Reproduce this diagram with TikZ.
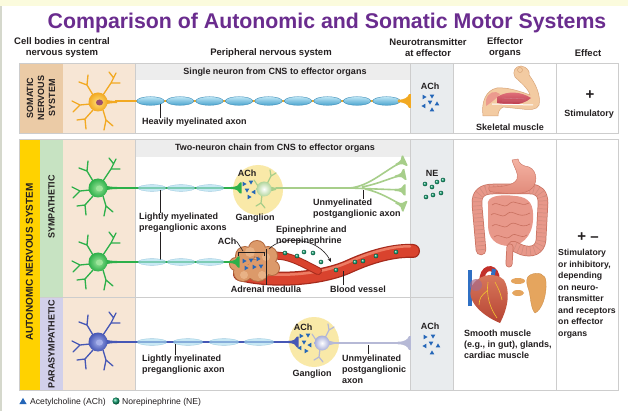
\documentclass[tikz,border=0pt]{standalone}
\usepackage{fontspec}
\setmainfont{Liberation Sans}
\usetikzlibrary{arrows.meta}
\definecolor{titlepurple}{HTML}{6A2C8E}
\definecolor{topband}{HTML}{FBFBDD}
\definecolor{edgegrey}{HTML}{D5D8CC}
\definecolor{tandark}{HTML}{EBCBA6}
\definecolor{tanlight}{HTML}{F7E6D5}
\definecolor{autoyellow}{HTML}{FFD200}
\definecolor{sympgreen}{HTML}{C7E3C2}
\definecolor{paralav}{HTML}{D2D0EA}
\definecolor{bandgrey}{HTML}{EDEDED}
\definecolor{ntgrey}{HTML}{E9ECEE}
\definecolor{gridc}{HTML}{CDCDCD}
\definecolor{somorange}{HTML}{F2A922}
\definecolor{somlight}{HTML}{FFE07A}
\definecolor{somnuc}{HTML}{9A4F6E}
\definecolor{myelinlight}{HTML}{BDE6F5}
\definecolor{myelindark}{HTML}{4AA3CE}
\definecolor{myelinedge}{HTML}{3A8CB8}
\definecolor{lightmyelin}{HTML}{A9DCEF}
\definecolor{sgreen}{HTML}{2DB04A}
\definecolor{sgreenlight}{HTML}{9CE59A}
\definecolor{pgreen}{HTML}{A7CE8A}
\definecolor{pgreensoma}{HTML}{B2D69C}
\definecolor{pblue}{HTML}{4657B5}
\definecolor{pbluelight}{HTML}{A5AFEA}
\definecolor{plav}{HTML}{B6B9D6}
\definecolor{plavsoma}{HTML}{A9AFDA}
\definecolor{ganglion}{HTML}{F9E9A8}
\definecolor{achblue}{HTML}{2466B8}
\definecolor{negreen}{HTML}{12A070}
\definecolor{vesselred}{HTML}{D9432E}
\definecolor{vesseldark}{HTML}{A52A1C}
\definecolor{vessellight}{HTML}{F28B72}
\definecolor{adrenal}{HTML}{DC9A6A}
\definecolor{adrenaldark}{HTML}{B36A40}
\definecolor{adrenallight}{HTML}{F0C39A}
\definecolor{skin}{HTML}{F3CBA2}
\definecolor{skindark}{HTML}{D9A57A}
\definecolor{muscletop}{HTML}{E67A82}
\definecolor{musclebot}{HTML}{B8364A}
\definecolor{gutpink}{HTML}{E8988A}
\definecolor{gutdark}{HTML}{C8705F}
\definecolor{stomtop}{HTML}{F4B3A3}
\definecolor{stombot}{HTML}{E08878}
\definecolor{hearttop}{HTML}{D97A5E}
\definecolor{heartbot}{HTML}{B74433}
\definecolor{heartblue}{HTML}{2F70C4}
\definecolor{aortared}{HTML}{C2312A}
\definecolor{atrium}{HTML}{A86A8A}
\definecolor{coronary}{HTML}{F2C230}
\definecolor{glandor}{HTML}{E5A55E}
\definecolor{glanddark}{HTML}{C98A45}
\definecolor{txt}{HTML}{231F20}
\tikzset{
 titlestyle/.style={font=\bfseries\fontsize{21.3}{24}\selectfont, text=titlepurple, inner sep=0pt},
 hdr/.style={font=\bfseries\fontsize{9.5}{11}\selectfont, inner sep=0pt, align=center, text=txt},
 lbl/.style={font=\bfseries\fontsize{9}{11}\selectfont, inner sep=0pt, align=left, text=txt},
 vlbl/.style={font=\bfseries\fontsize{9}{11}\selectfont, inner sep=0pt, align=center, rotate=90, text=txt},
 leg/.style={font=\fontsize{8.6}{10}\selectfont, inner sep=0pt, text=txt},
 gridline/.style={draw=gridc, line width=0.8pt},
 tick/.style={draw=txt, line width=0.6pt},
 pics/neuron/.style n args={3}{code={
   \draw[#1, line width=1.3pt, line cap=round, line join=round]
     (-5,-7) -- (-11,-17) -- (-19,-20) (-11,-17) -- (-10,-27)
     (5,-7) -- (13,-19) -- (18,-29) (13,-19) -- (22,-19) (15.7,-24) -- (11,-30)
     (-8,2) -- (-18,3) -- (-26,-1) (-18,3) -- (-25,10)
     (-5,8) -- (-13,17) -- (-21,18) (-13,17) -- (-12,27)
     (5,8) -- (8,18) -- (6,28) (8,18) -- (15,24);
   \fill[#1] (5,-4.5) .. controls (10,-1.3) .. (19,-1.1) -- (19,1.1) .. controls (10,1.3) .. (5,4.5) -- cycle;
   \shade[inner color=#2, outer color=#1] (0,0) circle [radius=9.5];
   \fill[#3] (1.5,0.5) ellipse [x radius=3.5, y radius=3];
 }},
 pics/gneuron/.style n args={2}{code={
   \draw[#1, line width=1.2pt, line cap=round, line join=round]
     (3,-5) -- (7,-13) -- (12,-16) (7,-13) -- (6,-19)
     (-2,6) -- (-3,14) -- (-8,17) (-3,14) -- (1,19)
     (-6,-3) -- (-10,-9);
   \fill[#1] (4,-3) -- (12,-1) -- (12,1) -- (4,3) -- cycle;
   \shade[inner color=white, outer color=#2] (0,0) circle [radius=7.5];
 }},
 pics/flare/.style={code={
   \fill[#1] (-9,-1) .. controls (-3,-1) and (-1,-3) .. (0,-5.5) -- (1.5,-5.5) -- (1.5,5.5) -- (0,5.5) .. controls (-1,3) and (-3,1) .. (-9,1) -- cycle;
 }},
 pics/tri/.style={code={
   \fill[achblue] (0,-2.6) -- (2.3,1.4) -- (-2.3,1.4) -- cycle;
 }},
}
\begin{document}
\begin{tikzpicture}[x=1pt,y=-1pt]
\useasboundingbox (0,0) rectangle (628,411);
\fill[white] (0,0) rectangle (628,411);
\fill[topband] (0,0) rectangle (628,6);
\fill[edgegrey] (0,6) rectangle (1.6,411);

% ---------- title and headers
\node[titlestyle, anchor=base] (title) at (327,29) {Comparison of Autonomic and Somatic Motor Systems};
\node[hdr] (hcell) at (62,47.5) {Cell bodies in central\\nervous system};
\node[hdr] (hpns) at (271,53) {Peripheral nervous system};
\node[hdr] (hnt) at (428,47.5) {Neurotransmitter\\at effector};
\node[hdr] (heff) at (505,47.5) {Effector\\organs};
\node[hdr] (heffect) at (588,53) {Effect};

% ---------- somatic table
\fill[tandark] (19,63) rectangle (63,133);
\fill[tanlight] (63,63) rectangle (135,133);
\fill[bandgrey] (135,63) rectangle (410,80);
\fill[ntgrey] (410,63) rectangle (453,133);
\draw[gridline] (19,63) rectangle (618,133);
\draw[gridline] (135,63) -- (135,133) (410,63) -- (410,133) (453,63) -- (453,133) (556,63) -- (556,133);

% ---------- autonomic table
\fill[autoyellow] (19,139) rectangle (40,390);
\fill[sympgreen] (40,139) rectangle (63,297);
\fill[paralav] (40,297) rectangle (63,390);
\fill[tanlight] (63,139) rectangle (135,390);
\fill[bandgrey] (135,139) rectangle (410,157);
\fill[ntgrey] (410,139) rectangle (453,390);
\draw[gridline] (19,139) rectangle (618,390);
\draw[gridline] (135,139) -- (135,390) (410,139) -- (410,390) (453,139) -- (453,390) (556,139) -- (556,390);
\draw[gridline] (40,297) -- (453,297);

% ---------- side labels
\node[vlbl] (somlbl) at (41,98) {SOMATIC\\NERVOUS\\SYSTEM};
\node[vlbl, font=\bfseries\fontsize{10}{12}\selectfont] (autolbl) at (29.5,262) {AUTONOMIC NERVOUS SYSTEM};
\node[vlbl] (symlbl) at (51.5,207) {SYMPATHETIC};
\node[vlbl] (paralbl) at (51.5,344) {PARASYMPATHETIC};

% ---------- band captions
\node[lbl] (single) at (275,72) {Single neuron from CNS to effector organs};
\node[lbl] (twochain) at (275,148) {Two-neuron chain from CNS to effector organs};

% ================= SOMATIC ROW
\pic at (98,102) {neuron={somorange}{somlight}{somnuc}};
\draw[somorange, line width=2.2pt] (115,101) -- (404,101);
\foreach \cx in {150.5,180,209.5,239,268.5,298,327.5,357,386.5}
  \shadedraw[top color=myelinlight, bottom color=myelindark, draw=myelinedge, line width=0.4pt] (\cx,101) ellipse [x radius=13.8, y radius=4.3];
\pic[scale=1.25] at (409,101) {flare=somorange};
\node[lbl, anchor=west] (heavy) at (142,122) {Heavily myelinated axon};
\coordinate (t1) at (160,104);
\draw[tick] (t1) -- (t1 |- heavy.north);
% neurotransmitter
\node[lbl] (achS) at (430,86) {ACh};
\foreach \x/\y/\r in {424/97/-90, 432/96/180, 430/102/180, 424/106/90, 437/104/0, 432/110/0}
  \pic[rotate=\r] at (\x,\y) {tri};
% skeletal muscle (arm)
\filldraw[fill=skin, draw=skindark, line width=0.5pt] (483,116) .. controls (481,102) and (486,90) .. (497,88) .. controls (508,87) and (522,92) .. (530,95) .. controls (528,88) and (520,82) .. (515,77) .. controls (512,72) and (515,66) .. (521,66) .. controls (527,67) and (530,71) .. (529,75) .. controls (536,84) and (541,96) .. (539,105) .. controls (537,110) and (530,110) .. (522,109) -- (503,107) .. controls (499,109) and (498,113) .. (498,116) -- cycle;
\shade[top color=muscletop, bottom color=musclebot] (497,97) .. controls (508,90) and (522,92) .. (531,98) .. controls (522,106) and (507,106) .. (497,103) -- cycle;
\fill[muscletop, opacity=.6] (486,100) .. controls (488,92) and (495,90) .. (500,94) .. controls (497,98) and (492,102) .. (486,106) -- cycle;
\draw[musclebot!60, line width=0.3pt] (502,98) -- (526,99) (502,101) -- (526,101);
\draw[white, line width=1pt] (492,104) -- (533,105);
\draw[skindark, line width=0.5pt] (520,70) circle [radius=2.5];
\node[lbl] (skel) at (510,127) {Skeletal muscle};
% effect
\node[lbl, font=\bfseries\fontsize{15}{15}\selectfont] (somplus) at (590,95) {+};
\node[lbl] (somstim) at (589,114) {Stimulatory};

% ================= SYMPATHETIC ROW 1
\fill[ganglion] (258,190) circle [radius=25];
\pic at (98,188) {neuron={sgreen}{sgreenlight}{sgreenlight}};
\draw[sgreen, line width=2pt] (115,188) -- (234,188);
\foreach \cx in {152,181,210}
  \filldraw[fill=lightmyelin, fill opacity=.65, draw=myelinedge, draw opacity=.4, line width=.3pt] (\cx,188) ellipse [x radius=14, y radius=3.4];
\pic at (240,188) {flare=sgreen};
\node[lbl] (achG1) at (247,173) {ACh};
\foreach \x/\y/\r in {244/184/-90, 251/182/180, 247/190/180, 254/192/-30, 249/197/-90}
  \pic[rotate=\r] at (\x,\y) {tri};
\draw[pgreen, line width=1.8pt, line cap=round] (276,188) -- (352,188);
\draw[pgreen, line width=1.6pt] (350,188) .. controls (370,186) and (385,170) .. (402,162)
  (362,187) .. controls (378,184) and (390,178) .. (402,175)
  (350,188) -- (402,190)
  (365,189) .. controls (380,192) and (392,200) .. (402,205);
\pic[rotate=25] at (404,161) {flare=pgreen};
\pic[rotate=12] at (404,174.6) {flare=pgreen};
\pic at (404,190) {flare=pgreen};
\pic[rotate=-22] at (404,206) {flare=pgreen};
\pic at (264,189) {gneuron={pgreen}{pgreensoma}};
\node[lbl] (gang1) at (255,218) {Ganglion};
\node[lbl, anchor=west] (unmy1) at (313,208.5) {Unmyelinated\\postganglionic axon};
\coordinate (t2) at (363,190);
\draw[tick] (t2) -- (t2 |- unmy1.north);
\node[lbl, anchor=west] (lightly1) at (139,222.5) {Lightly myelinated\\preganglionic axons};
\coordinate (t3) at (160,190);
\coordinate (t4) at (160,260);
\draw[tick] (t3) -- (t3 |- lightly1.north);
\draw[tick] (t4) -- (t4 |- lightly1.south);
% NE
\node[lbl] (neN) at (432,173) {NE};
\foreach \x/\y in {425/184, 432/187, 437/182, 443/180, 433/195, 426/197, 441/193}
  \shade[ball color=negreen] (\x,\y) circle [radius=2.3];

% ================= SYMPATHETIC ROW 2 (adrenal)
\pic at (98,262) {neuron={sgreen}{sgreenlight}{sgreenlight}};
\draw[sgreen, line width=2pt] (115,262) -- (232,262);
\foreach \cx in {152,181,210}
  \filldraw[fill=lightmyelin, fill opacity=.65, draw=myelinedge, draw opacity=.4, line width=.3pt] (\cx,262) ellipse [x radius=14, y radius=3.4];
% blood vessel
\draw[vesseldark, line width=14pt, line cap=round] (240,274) .. controls (270,282) and (320,280) .. (350,266) .. controls (372,256) and (395,250) .. (413,251);
\draw[vesselred, line width=11.5pt, line cap=round] (240,274) .. controls (270,282) and (320,280) .. (350,266) .. controls (372,256) and (395,250) .. (413,251);
\draw[vessellight, line width=2.5pt, line cap=round, opacity=.8, yshift=2.5pt] (250,274) .. controls (275,280) and (320,278) .. (350,264) .. controls (372,254) and (395,248) .. (410,249);
\draw[vesseldark, line width=8pt, line cap=round] (266,257) .. controls (285,252) and (300,262) .. (318,271);
\draw[vesselred, line width=6pt, line cap=round] (266,257) .. controls (285,252) and (300,262) .. (318,271);
% adrenal medulla
\foreach \x/\y/\r in {245/256/9, 257/249/8, 268/256/9, 272/268/7, 258/270/11, 243/272/9, 236/264/6}
  \fill[adrenaldark] (\x,\y) circle [radius=\r+1];
\foreach \x/\y/\r in {245/256/9, 257/249/8, 268/256/9, 272/268/7, 258/270/11, 243/272/9, 236/264/6}
  \fill[adrenal] (\x,\y) circle [radius=\r];
\fill[adrenallight, opacity=.6] (250,252) circle [radius=5] (266,257) circle [radius=4] (244,275) circle [radius=4] (262,275) circle [radius=4];
\pic at (238,262) {flare=sgreen};
\foreach \x/\y/\r in {244/261/-90, 251/260/180, 258/259/-90, 246/268/-90, 254/267/-90, 261/266/180}
  \pic[rotate=\r] at (\x,\y) {tri};
\node[lbl] (achA) at (227,241) {ACh};
\draw[tick] (achA.east) -- (243,251);
\draw[tick] (238,256) -- (238,252) -- (264,252) -- (264,256);
\node[lbl] (admed) at (266,289) {Adrenal medulla};
\coordinate (t5) at (266,249);
\draw[tick] (t5) -- (t5 |- admed.north);
\node[lbl, anchor=west] (epi) at (276,236) {Epinephrine and\\norepinephrine};
\draw[-{Stealth[length=4pt,width=3.5pt]}, line width=0.6pt, txt] (269,249) .. controls (282,235) and (318,237) .. (331,262);
\foreach \x/\y in {285/253, 297/256, 304/252, 313/253, 321/262, 336/270, 355/262, 363/261, 376/256, 396/252}
  \shade[ball color=negreen] (\x,\y) circle [radius=2.3];
\node[lbl] (vessel) at (358,289) {Blood vessel};
\coordinate (t6) at (343,271);
\draw[tick] (t6) -- (t6 |- vessel.north);

% ================= PARASYMPATHETIC ROW
\fill[ganglion] (314,342) circle [radius=25];
\pic at (98,342) {neuron={pblue}{pbluelight}{pbluelight}};
\draw[pblue, line width=2pt] (115,342) -- (292,342);
\foreach \cx in {152,188,224,259}
  \filldraw[fill=lightmyelin, fill opacity=.65, draw=myelinedge, draw opacity=.4, line width=.3pt] (\cx,342) ellipse [x radius=15, y radius=3.4];
\pic at (297,342) {flare=pblue};
\node[lbl] (achG2) at (303,327) {ACh};
\foreach \x/\y/\r in {301/336/-90, 308/335/180, 304/342/180, 310/345/-30, 306/351/-90, 300/348/90}
  \pic[rotate=\r] at (\x,\y) {tri};
\draw[plav, line width=2pt] (334,343) -- (404,343);
\pic[scale=1.25] at (409,343) {flare=plav};
\pic at (322,343) {gneuron={plav}{plavsoma}};
\node[lbl, anchor=west] (lightly2) at (142,364.5) {Lightly myelinated\\preganglionic axon};
\coordinate (t7) at (175,344);
\draw[tick] (t7) -- (t7 |- lightly2.north);
\node[lbl] (gang2) at (312,374) {Ganglion};
\node[lbl, anchor=west] (unmy2) at (342,369) {Unmyelinated\\postganglionic\\axon};
\coordinate (t8) at (368,345);
\draw[tick] (t8) -- (t8 |- unmy2.north);
\node[lbl] (achP) at (430,326) {ACh};
\foreach \x/\y/\r in {425/337/-90, 433/336/180, 431/343/180, 425/346/90, 438/346/0, 432/353/0}
  \pic[rotate=\r] at (\x,\y) {tri};

% ================= EFFECTOR ORGANS (autonomic)
% small intestine
\fill[gutpink] (488,205) .. controls (486,196) and (500,194) .. (515,196) .. controls (530,197) and (534,205) .. (533,220) .. controls (532,238) and (520,246) .. (510,246) .. controls (495,246) and (488,238) .. (488,225) -- cycle;
\draw[gutdark, line width=.6pt] (492,205) .. controls (498,200) and (503,210) .. (509,204) .. controls (515,198) and (520,208) .. (529,203)
 (491,215) .. controls (496,210) and (501,220) .. (507,214) .. controls (513,208) and (518,220) .. (530,213)
 (492,226) .. controls (498,221) and (503,231) .. (509,225) .. controls (515,219) and (520,230) .. (530,224)
 (494,237) .. controls (500,232) and (505,242) .. (511,236) .. controls (516,231) and (520,240) .. (527,235);
% large intestine
\draw[gutdark, line width=10.5pt, line cap=round, line join=round] (481,250) -- (477,205) .. controls (476,193) and (483,189) .. (493,189) -- (530,189) .. controls (539,189) and (543,194) .. (543,203) -- (541,240) .. controls (540,250) and (532,253) .. (522,250) -- (513,246);
\draw[gutpink, line width=9pt, line cap=round, line join=round] (481,250) -- (477,205) .. controls (476,193) and (483,189) .. (493,189) -- (530,189) .. controls (539,189) and (543,194) .. (543,203) -- (541,240) .. controls (540,250) and (532,253) .. (522,250) -- (513,246);
\draw[gutdark!80, line width=9pt, dash pattern=on 0.7pt off 3.3pt] (481,250) -- (477,205) .. controls (476,193) and (483,189) .. (493,189) -- (530,189) .. controls (539,189) and (543,194) .. (543,203) -- (541,240) .. controls (540,250) and (532,253) .. (522,250) -- (513,246);
\draw[gutdark, line width=7pt, line cap=round] (510,247) -- (509,264);
\draw[gutpink, line width=5.5pt, line cap=round] (510,247) -- (509,264);
% stomach
\shadedraw[top color=stomtop, bottom color=stombot, draw=gutdark, line width=0.4pt] (512,160) -- (518,159) .. controls (519,164) and (523,166) .. (529,167) .. controls (538,171) and (538,185) .. (530,190) .. controls (520,196) and (503,193) .. (493,192) .. controls (490,192) and (488,190) .. (489,187) .. controls (500,187) and (514,186) .. (517,179) .. controls (519,173) and (514,168) .. (512,160) -- cycle;
% heart
\draw[heartblue, line width=4.5pt] (470,306) -- (470,270);
\draw[aortared, line width=5pt, line cap=round] (482,282) .. controls (481,267) and (494,264) .. (497,276);
\draw[heartblue, line width=4pt] (491,286) -- (494,269);
\shade[top color=hearttop, bottom color=heartbot] (474,283) .. controls (463,296) and (478,314) .. (500,323) .. controls (509,306) and (510,290) .. (504,280) .. controls (496,272) and (481,274) .. (474,283) -- cycle;
\fill[atrium, opacity=.7] (476,285) circle [radius=6];
\draw[coronary, line width=0.6pt] (488,282) .. controls (486,296) and (490,308) .. (497,318) (488,290) .. controls (480,297) .. (479,305) (495,282) .. controls (500,292) .. (502,300);
% glands
\fill[glandor] (518,281) ellipse [x radius=7, y radius=3];
\fill[glandor] (518,293) ellipse [x radius=6, y radius=3];
\filldraw[fill=glandor, draw=glanddark, line width=0.3pt] (530,275) .. controls (538,271) and (546,274) .. (546,282) .. controls (547,295) and (542,310) .. (535,313) .. controls (530,308) and (531,295) .. (528,288) .. controls (526,282) and (526,277) .. (530,275) -- cycle;
\node[lbl, anchor=west] (smooth) at (464,344) {Smooth muscle\\(e.g., in gut), glands,\\cardiac muscle};
% effect
\node[lbl, font=\bfseries\fontsize{15}{15}\selectfont] (pm) at (588,237) {+ –};
\node[lbl, anchor=west, font=\bfseries\fontsize{8.7}{11.5}\selectfont] (efftext) at (558,294) {Stimulatory\\or inhibitory,\\depending\\on neuro-\\transmitter\\and receptors\\on effector\\organs};

% ================= LEGEND
\pic[scale=1.6] at (23,402) {tri};
\node[leg, anchor=west] (legach) at (30,402) {Acetylcholine (ACh)};
\shade[ball color=negreen] (116,401) circle [radius=3.6];
\node[leg, anchor=west] (legne) at (122,402) {Norepinephrine (NE)};
\end{tikzpicture}
\end{document}
